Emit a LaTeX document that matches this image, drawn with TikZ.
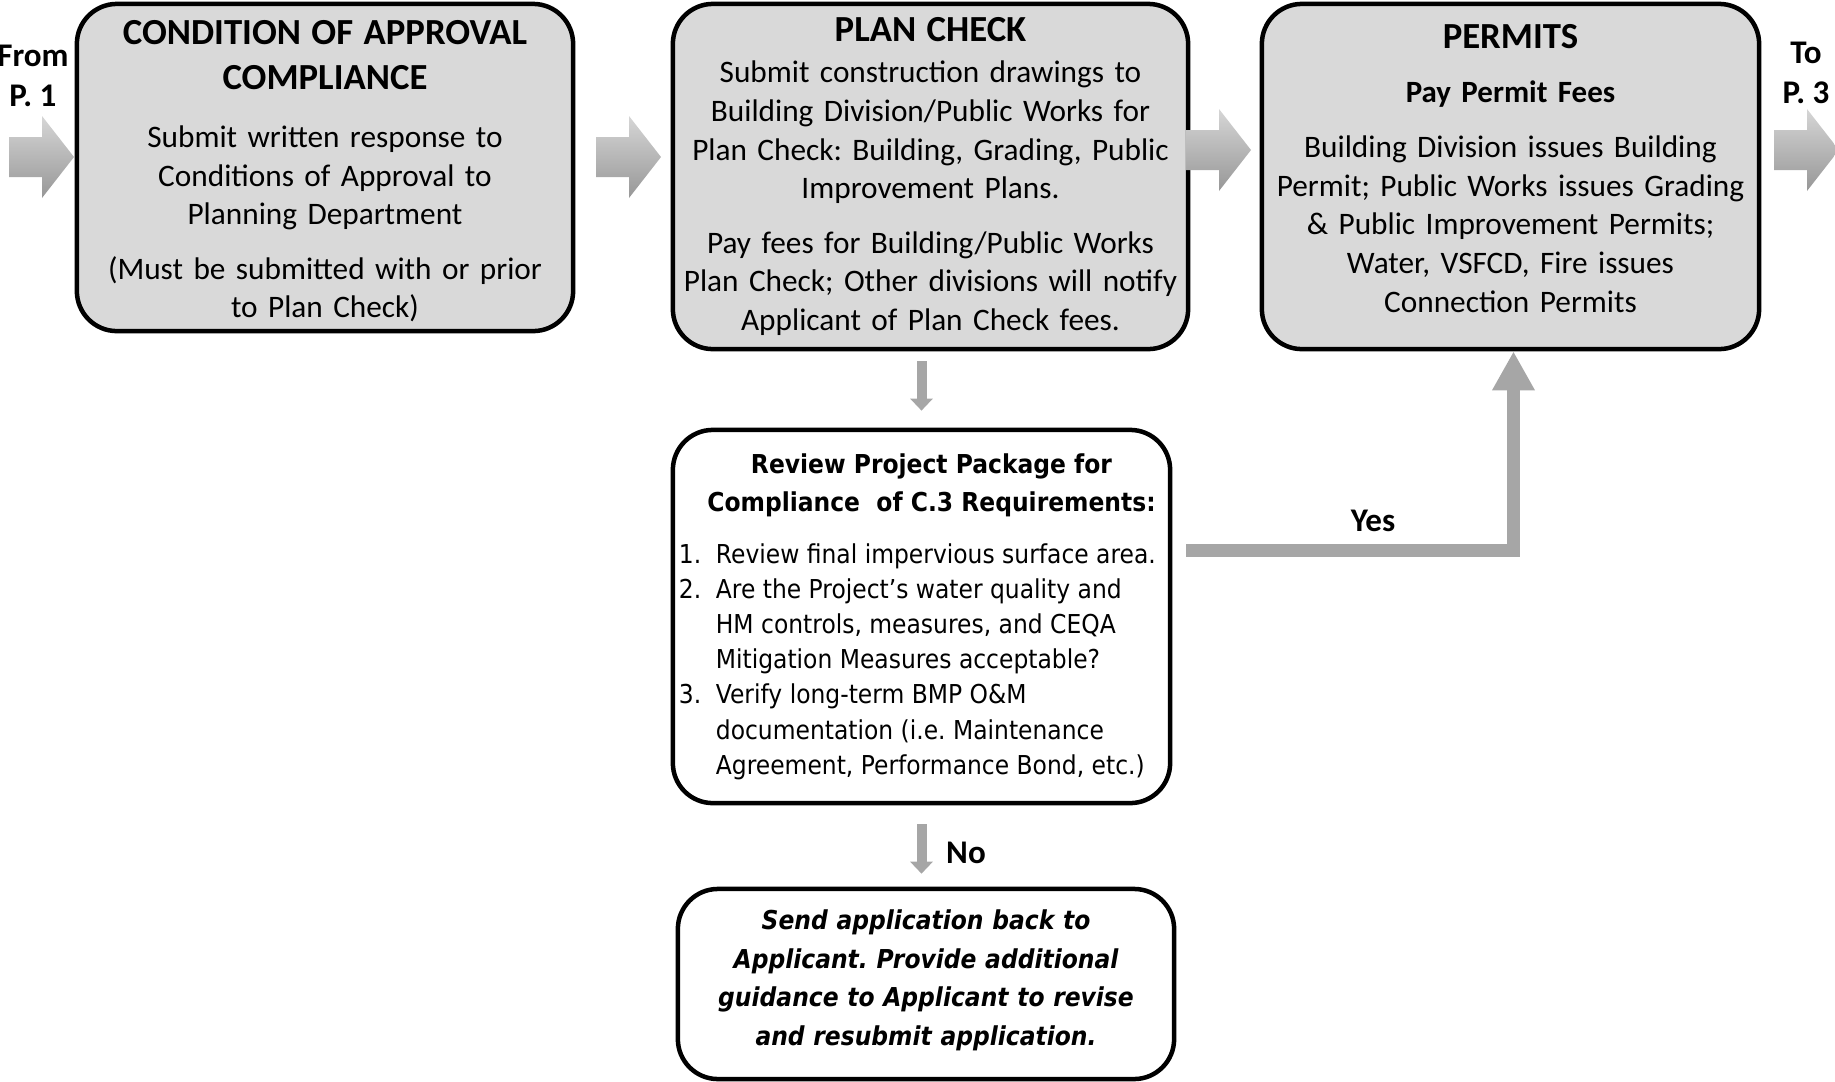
\documentclass[tikz,border=0pt]{standalone}
\usepackage{fontspec}
\setmainfont{Carlito}
\newfontfamily\verdfont[FakeStretch=0.9,
  ItalicFont={DejaVu Sans Oblique}, BoldItalicFont={DejaVu Sans Bold Oblique}]{DejaVu Sans}
\usetikzlibrary{arrows.meta,positioning}
\frenchspacing

\definecolor{boxgray}{HTML}{D9D9D9}
\definecolor{linkgray}{HTML}{A6A6A6}
\definecolor{arrowtop}{HTML}{D6D6D6}
\definecolor{arrowbot}{HTML}{979797}

\newcommand\bodyfnt{\fontsize{8.9}{11}\selectfont}
\newcommand\headfnt{\fontsize{10.45}{12.8}\selectfont\bfseries}

\tikzset{
  stepbox/.style={draw, line width=0.045cm, rounded corners=0.4cm, fill=boxgray,
    inner sep=0pt, align=center, font=\bodyfnt},
  sidelabel/.style={font=\fontsize{9.4}{11.4}\selectfont\bfseries, align=center, inner sep=0pt},
  link/.style={draw=linkgray, line width=0.1cm, -{Triangle[length=0.12cm,width=0.22cm]}},
  flechagris/.pic={\shade[top color=arrowtop, bottom color=arrowbot]
    (0,-20) -- (33,-20) -- (33,-41) -- (65,0) -- (33,41) -- (33,20) -- (0,20) -- cycle;}
}

\begin{document}
\begin{tikzpicture}[x=0.01cm, y=-0.01cm]
\useasboundingbox (0,0) rectangle (1835,1081);

% Cajas
\node[stepbox, minimum width=4.96cm, minimum height=3.27cm, text width=4.8cm] (coa) at (325,167.5)
  {{\headfnt\rule{0pt}{9pt}CONDITION OF APPROVAL}\\[1.8pt]{\headfnt COMPLIANCE}\\[5.5pt]
   Submit written response to\\Conditions of Approval to\\Planning Department\\[4.4pt]
   (Must be submitted with or prior\\to Plan Check)};
\node[stepbox, minimum width=5.15cm, minimum height=3.45cm, text width=5cm] (plan) at (930.5,176.5)
  {{\headfnt PLAN CHECK}\\[0.7pt]
   Submit construction drawings to\\Building Division/Public Works for\\Plan Check: Building, Grading, Public\\Improvement Plans.\\[4.4pt]
   Pay fees for Building/Public Works\\Plan Check; Other divisions will notify\\Applicant of Plan Check fees.};
\node[stepbox, minimum width=4.97cm, minimum height=3.45cm, text width=4.8cm] (permits) at (1510.5,176.5)
  {{\headfnt PERMITS}\\[4.5pt]
   {\bfseries\fontsize{8.8}{11}\selectfont Pay Permit Fees}\\[4.6pt]
   Building Division issues Building\\Permit; Public Works issues Grading\\\& Public Improvement Permits;\\Water, VSFCD, Fire issues\\Connection Permits\rule[-4.8pt]{0pt}{0pt}};
\node[stepbox, fill=white, minimum width=4.97cm, minimum height=3.73cm] (review) at (921.5,616.5)
  {\begin{minipage}{4.85cm}\verdfont\fontsize{7.4}{11}\selectfont
   \centering\bfseries\hspace*{0.2cm}Review Project Package for\\\hspace*{0.2cm}Compliance\ \ of C.3 Requirements:\par
   \vspace{4.6pt}\raggedright\mdseries\fontsize{7.4}{10}\selectfont
   \makebox[0.37cm][l]{1.}Review final impervious surface area.\\
   \makebox[0.37cm][l]{2.}Are the Project’s water quality and\\
   \hspace*{0.37cm}HM controls, measures, and CEQA\\
   \hspace*{0.37cm}Mitigation Measures acceptable?\\
   \makebox[0.37cm][l]{3.}Verify long-term BMP O\&M\\
   \hspace*{0.37cm}documentation (i.e. Maintenance\\
   \hspace*{0.37cm}Agreement, Performance Bond, etc.)\par
   \end{minipage}};
\node[stepbox, fill=white, minimum width=4.96cm, minimum height=1.9cm, text width=4.9cm,
  font=\verdfont\fontsize{7.4}{11}\selectfont\bfseries\itshape] (sendback) at (926,984)
  {Send application back to\\Applicant. Provide additional\\guidance to Applicant to revise\\and resubmit application.\rule[-3.6pt]{0pt}{0pt}};

% Textos
\node[sidelabel] (from) at (33,76) {From\\P. 1};
\node[sidelabel] (to) at (1806,73) {To\\P. 3};
\node[sidelabel] (yes) at (1373,521) {Yes};
\node[sidelabel] (no) at (966,853) {No};

% Flechas
\pic at (9,157) {flechagris};
\pic at (596,157) {flechagris};
\pic at (1186,150) {flechagris};
\pic at (1774,150) {flechagris};

\draw[link, shorten <=0.1cm, shorten >=0.17cm] (review.north |- plan.south) -- (review.north);
\draw[link, shorten <=0.19cm, shorten >=0.13cm] (review.south) -- (review.south |- sendback.north);
\coordinate (yesstart) at (1186,550);
\draw[draw=linkgray, line width=0.13cm, -{Triangle[length=0.39cm,width=0.4cm]}]
  (yesstart) -| ([xshift=0.03cm]permits.south);
\end{tikzpicture}
\end{document}
